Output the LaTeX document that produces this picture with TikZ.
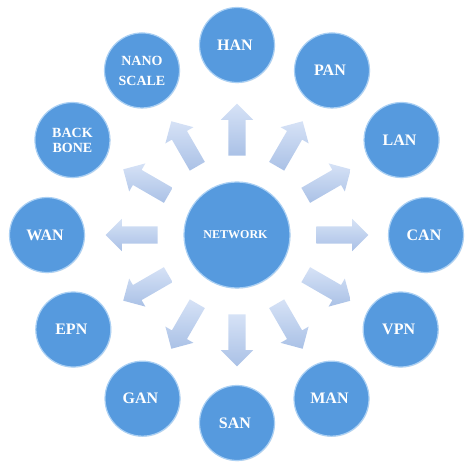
\documentclass[tikz,border=0pt]{standalone}
\usepackage{fontspec}
\setmainfont{Liberation Serif}
\usetikzlibrary{shapes.arrows}
\usetikzlibrary{shadows}
\definecolor{ballblue}{RGB}{86,154,222}
\definecolor{rimblue}{RGB}{170,208,244}
\definecolor{arrowlight}{RGB}{214,226,246}
\definecolor{arrowdark}{RGB}{170,193,230}
\tikzstyle{every node}=[font=\bfseries, text=white]
\tikzstyle{ball}=[circle, fill=ballblue, draw=rimblue, line width=1.2pt,
  inner sep=0pt, align=center, drop shadow={opacity=0.15, shadow xshift=0.6pt, shadow yshift=-0.8pt}]
\tikzstyle{hub}=[ball, minimum size=106pt, font=\bfseries\fontsize{12}{13}\selectfont]
\tikzstyle{leaf}=[ball, minimum size=75pt, font=\bfseries\fontsize{16}{17}\selectfont]
\tikzstyle{smallleaf}=[leaf, font=\bfseries\fontsize{14}{17}\selectfont]
\tikzstyle{spoke}=[single arrow, draw=none, minimum height=52pt, inner xsep=0pt, inner ysep=8.5pt,
  single arrow head extend=7.5pt, single arrow tip angle=90,
  top color=arrowlight, bottom color=arrowdark]

\begin{document}
\begin{tikzpicture}
\useasboundingbox (-237pt,-236pt) rectangle (237pt,235pt);

\node[hub] (Network) at (0,0) { NETWORK };

% block arrows from the hub
\foreach \ang/\name in {90/HanArrow, 60/PanArrow, 30/LanArrow, 0/CanArrow,
  -30/VpnArrow, -60/ManArrow, -90/SanArrow, -120/GanArrow, -150/EpnArrow,
  180/WanArrow, 150/BoneArrow, 120/NanoArrow}
  \node[spoke, rotate=\ang] (\name) at (\ang:101pt) {};

% outer networks
\node[leaf] (Han) at (90:190pt) { HAN };
\node[leaf] (Pan) at (60:190pt) { PAN };
\node[leaf] (Lan) at (30:190pt) { LAN };
\node[leaf] (Can) at (0:189pt) { CAN };
\node[leaf] (Vpn) at (-30:189pt) { VPN };
\node[leaf] (Man) at (-60:189pt) { MAN };
\node[leaf] (San) at (-90:188pt) { SAN };
\node[leaf] (Gan) at (-120:189pt) { GAN };
\node[leaf] (Epn) at (-150:189pt) { EPN };
\node[leaf] (Wan) at (180:190pt) { WAN };
\node[smallleaf] (Backbone) at (150:190pt) { BACK\\[-2pt]BONE };
\node[smallleaf] (Nanoscale) at (120:190pt) { NANO\\[3pt]SCALE };

\end{tikzpicture}
\end{document}
